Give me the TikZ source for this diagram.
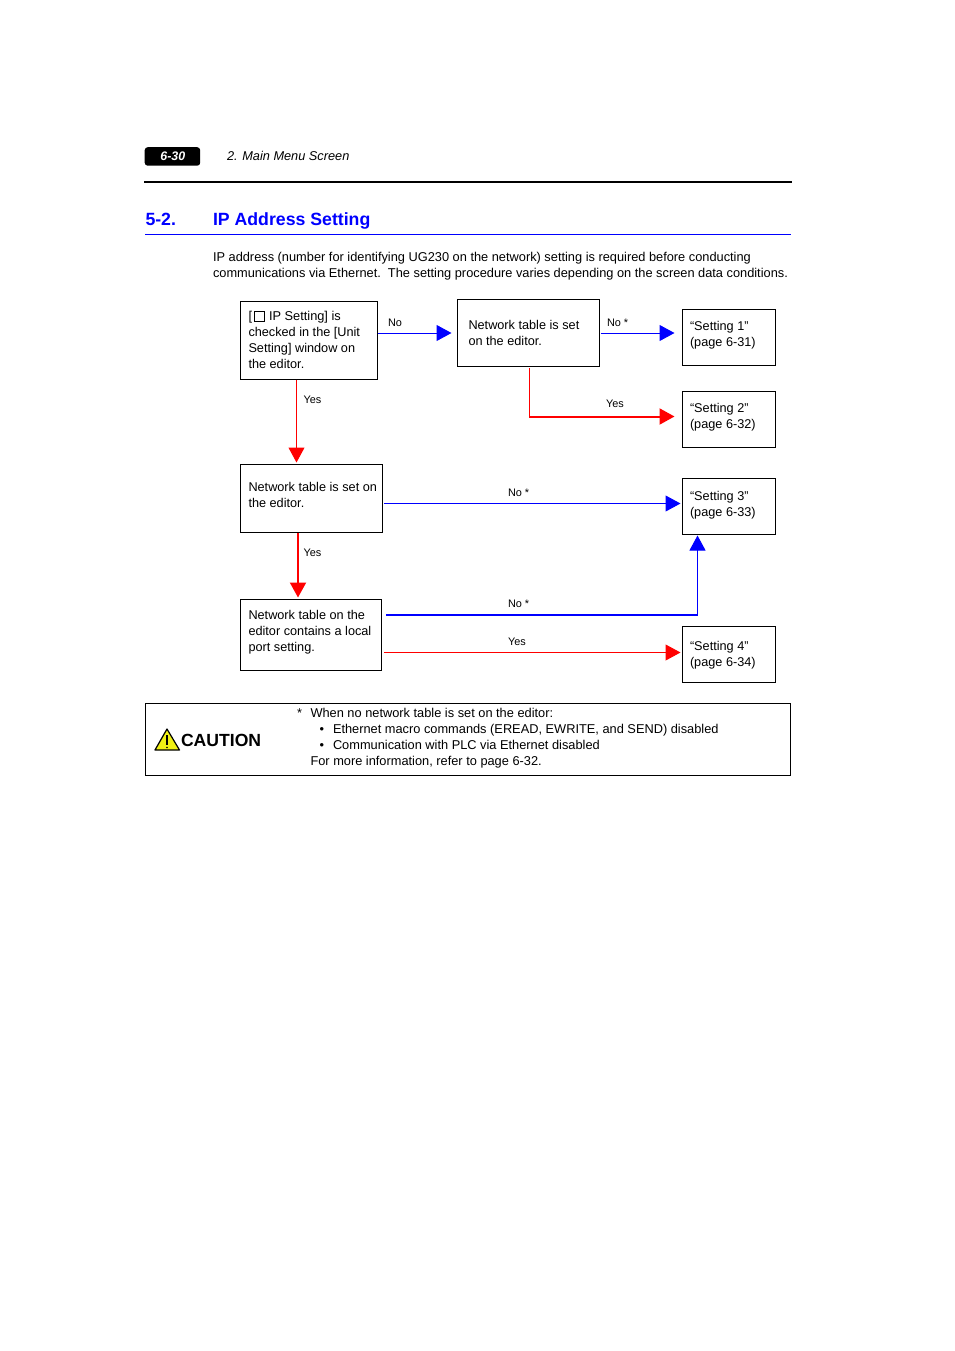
\documentclass[tikz,border=0pt]{standalone}
\usepackage{fontspec}
\setmainfont{Liberation Sans}
\usetikzlibrary{arrows.meta,calc}
\definecolor{hblue}{RGB}{0,0,255}
\definecolor{hred}{RGB}{255,0,0}
\definecolor{cyel}{RGB}{240,240,20}
\tikzset{
  x=1pt,y=-1pt,
  box/.style={draw=black,line width=1pt,inner sep=0pt,outer sep=0pt,anchor=north west},
  txt/.style={font=\fontsize{12.7}{16}\selectfont,align=left,anchor=north west,inner sep=0pt,outer sep=0pt},
  lbl/.style={font=\fontsize{10.9}{12}\selectfont,anchor=base west,inner sep=0pt,outer sep=0pt},
  bluearr/.style={draw=hblue,line width=1pt,-{Triangle[length=15pt,width=16pt,fill=hblue]}},
  redarr/.style={draw=hred,line width=1pt,-{Triangle[length=15pt,width=16pt,fill=hred]}},
  plain/.style={inner sep=0pt,outer sep=0pt,anchor=base west},
  body/.style={plain,font=\fontsize{12.8}{14}\selectfont},
}
\newcommand{\boxat}[5]{\node[box,minimum width=#3-#2,minimum height=#5-#4] (#1) at (#2,#4) {};}
\begin{document}
\begin{tikzpicture}
\useasboundingbox[fill=white] (0,0) rectangle (954,1351);
% header
\node[fill=black,rounded corners=3pt,minimum width=55.5pt,minimum height=18.5pt,inner sep=0pt,anchor=north west] (tab) at (144.5,147) {};
\node[font=\fontsize{12.4}{14}\selectfont\bfseries\itshape,text=white,inner sep=0pt] (tabt) at (172.8,156) {6-30};
\node[plain,font=\fontsize{12.75}{14}\selectfont\itshape] (chap) at (227,160.5) {2. Main Menu Screen};
\coordinate (r1a) at (144,182); \coordinate (r1b) at (792,182);
\draw[line width=2pt,black] (r1a) -- (r1b);
% section
\node[plain,font=\fontsize{17.7}{20}\selectfont\bfseries,text=hblue] (secn) at (145.5,225) {5-2.};
\node[plain,font=\fontsize{17.7}{20}\selectfont\bfseries,text=hblue] (sect) at (213,225) {IP Address Setting};
\coordinate (r2a) at (145,234.5); \coordinate (r2b) at (791,234.5);
\draw[line width=1pt,hblue] (r2a) -- (r2b);
\node[body] (p1) at (213,261) {IP address (number for identifying UG230 on the network) setting is required before conducting};
\node[body] (p2) at (213,277) {communications via Ethernet.\ \ The setting procedure varies depending on the screen data conditions.};
% boxes
\boxat{b1}{240.5}{377.5}{301.5}{379.5}
\boxat{b2}{457.5}{599.5}{299.5}{366.5}
\boxat{s1}{682.5}{775.5}{309.5}{365.5}
\boxat{s2}{682.5}{775.5}{391.5}{447.5}
\boxat{b3}{240.5}{382.5}{464.5}{532.5}
\boxat{s3}{682.5}{775.5}{478.5}{534.5}
\boxat{b4}{240.5}{381.5}{599.5}{670.5}
\boxat{s4}{682.5}{775.5}{626.5}{682.5}
\boxat{caut}{145.5}{790.5}{703.5}{775.5}
% box text
\node[body] (t1a) at (248.5,320) {[};
\node[box,minimum width=10pt,minimum height=10pt] (chk) at (254.5,311.5) {};
\node[body] (t1b) at (269,320) {IP Setting] is};
\node[txt] (t1) at (248.5,327.5) {checked in the [Unit\\Setting] window on\\the editor.};
\node[txt] (t2) at (468.5,320.5) {Network table is set\\on the editor.};
\node[txt] (t3) at (248.5,482.5) {Network table is set on\\the editor.};
\node[txt] (t4) at (248.5,610.5) {Network table on the\\editor contains a local\\port setting.};
\node[txt] (ts1) at (690,321.5) {“Setting 1”\\(page 6-31)};
\node[txt] (ts2) at (690,403) {“Setting 2”\\(page 6-32)};
\node[txt] (ts3) at (690,491) {“Setting 3”\\(page 6-33)};
\node[txt] (ts4) at (690,641) {“Setting 4”\\(page 6-34)};
% connectors
\draw[bluearr] ($(b1.north east)+(0,31.5)$) -- ($(b2.north west)+(-6,33.5)$);
\draw[bluearr] ($(b2.north east)+(1,33.5)$) -- ($(s1.north west)+(-8,23.5)$);
\coordinate (c2a) at ($(b2.south west)+(72,1.5)$);
\coordinate (c2b) at ($(s2.north west)+(-153,25)$);
\draw[draw=hred,line width=1pt] (c2a) -- (c2b);
\draw[redarr,line width=2pt] ($(c2b)+(-0.5,0)$) -- ($(s2.north west)+(-8,25)$);
\draw[redarr] ($(b1.south west)+(56,0)$) -- ($(b3.north west)+(56,-2)$);
\draw[redarr,line width=2pt] ($(b3.south west)+(57.5,0)$) -- ($(b4.north west)+(57.5,-2)$);
\draw[bluearr] ($(b3.north east)+(1.5,39)$) -- ($(s3.north west)+(-2,25)$);
\coordinate (c3) at ($(s3.south west)+(15,80)$);
\draw[draw=hblue,line width=2pt] ($(b4.north east)+(4.5,15)$) -- ($(c3)+(0.5,0)$);
\draw[bluearr] ($(c3)+(0,1)$) -- ($(s3.south west)+(15,1)$);
\draw[redarr] ($(b4.north east)+(2.5,53)$) -- ($(s4.north west)+(-2,26)$);
% labels
\node[lbl] (l1) at (388,326) {No};
\node[lbl] (l2) at (607,326) {No *};
\node[lbl] (l3) at (606,407) {Yes};
\node[lbl] (l4) at (303.5,403) {Yes};
\node[lbl] (l5) at (508,496) {No *};
\node[lbl] (l6) at (303.5,556) {Yes};
\node[lbl] (l7) at (508,607) {No *};
\node[lbl] (l8) at (508,645) {Yes};
% caution
\draw[black,line width=1.2pt,fill=cyel,line join=round] (167,729) -- (179.5,750) -- (155,750) -- cycle;
\draw[black,line width=1.3pt] (167,735) -- (167,745);
\fill[black] (167,747.5) circle (0.8);
\node[plain,font=\fontsize{17.6}{20}\selectfont\bfseries] (ct) at (181,746) {CAUTION};
\node[body] (n0) at (297,717) {*};
\node[body] (n1) at (310.5,717) {When no network table is set on the editor:};
\node[body] (d2) at (319.5,733) {•};
\node[body] (n2) at (333,733) {Ethernet macro commands (EREAD, EWRITE, and SEND) disabled};
\node[body] (d3) at (319.5,749) {•};
\node[body] (n3) at (333,749) {Communication with PLC via Ethernet disabled};
\node[body] (n4) at (310.5,765) {For more information, refer to page 6-32.};
\end{tikzpicture}
\end{document}
